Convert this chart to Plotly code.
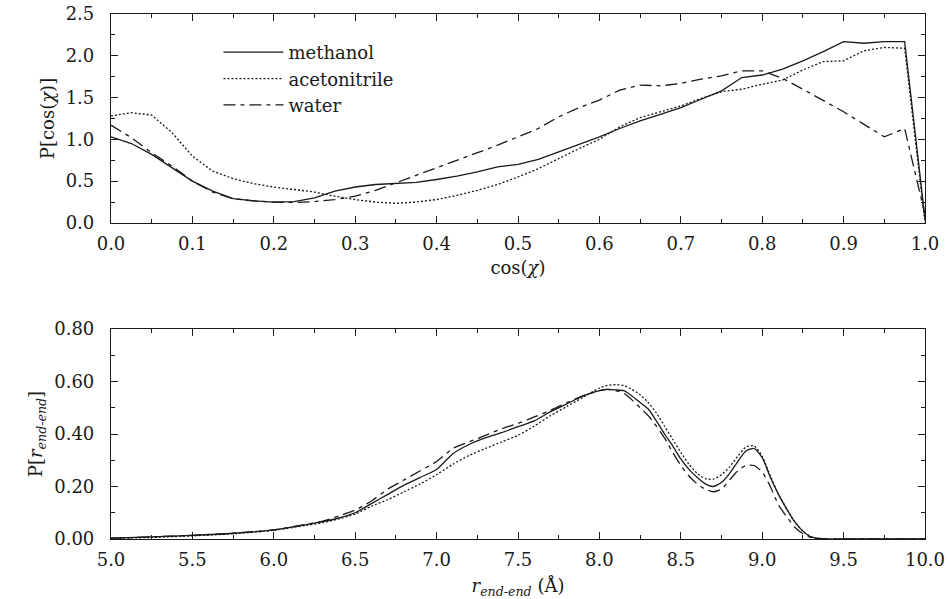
import plotly.graph_objects as go

# ---- top panel: P[cos(chi)] ----
cos_chi = [0.0, 0.025, 0.05, 0.075, 0.1, 0.125, 0.15, 0.175, 0.2, 0.225, 0.25, 0.275, 0.3, 0.325,
           0.35, 0.375, 0.4, 0.425, 0.45, 0.475, 0.5, 0.525, 0.55, 0.575, 0.6, 0.625, 0.65, 0.675,
           0.7, 0.725, 0.75, 0.775, 0.8, 0.825, 0.85, 0.875, 0.9, 0.925, 0.95, 0.975, 1.0]
p_chi_methanol = [1.03, 0.95, 0.82, 0.66, 0.50, 0.38, 0.29, 0.265, 0.25, 0.255, 0.30, 0.38, 0.43, 0.46,
                  0.47, 0.485, 0.52, 0.56, 0.61, 0.67, 0.70, 0.76, 0.85, 0.94, 1.03, 1.13, 1.22, 1.30,
                  1.38, 1.48, 1.58, 1.74, 1.77, 1.84, 1.94, 2.05, 2.17, 2.15, 2.17, 2.17, 0.05]
p_chi_acetonitrile = [1.28, 1.32, 1.29, 1.08, 0.80, 0.62, 0.53, 0.47, 0.43, 0.40, 0.37, 0.32, 0.28, 0.25,
                      0.235, 0.25, 0.28, 0.33, 0.39, 0.46, 0.55, 0.65, 0.77, 0.89, 1.0, 1.15, 1.26, 1.33,
                      1.40, 1.49, 1.57, 1.60, 1.66, 1.71, 1.83, 1.93, 1.94, 2.06, 2.10, 2.09, 0.0]
p_chi_water = [1.17, 1.02, 0.84, 0.68, 0.50, 0.37, 0.29, 0.265, 0.25, 0.245, 0.255, 0.28, 0.32, 0.39,
               0.48, 0.57, 0.66, 0.75, 0.84, 0.93, 1.03, 1.13, 1.27, 1.38, 1.47, 1.59, 1.65, 1.64,
               1.67, 1.72, 1.76, 1.82, 1.82, 1.73, 1.60, 1.47, 1.33, 1.18, 1.03, 1.13, 0.1]

# ---- bottom panel: P[r_end-end] ----
r_end = [5.0, 5.25, 5.5, 5.75, 6.0, 6.2, 6.3, 6.4, 6.5, 6.6, 6.7, 6.8, 6.9, 7.0, 7.1, 7.2, 7.3, 7.4,
         7.5, 7.6, 7.7, 7.8, 7.9, 8.0, 8.05, 8.1, 8.15, 8.2, 8.25, 8.3, 8.35, 8.4, 8.45, 8.5, 8.55,
         8.6, 8.65, 8.7, 8.75, 8.8, 8.85, 8.9, 8.95, 9.0, 9.05, 9.1, 9.15, 9.2, 9.25, 9.3, 9.35,
         9.4, 9.5, 10.0]
p_r_methanol = [0.003, 0.008, 0.014, 0.022, 0.035, 0.055, 0.066, 0.080, 0.100, 0.135, 0.170, 0.205,
                0.235, 0.265, 0.325, 0.360, 0.385, 0.405, 0.428, 0.450, 0.485, 0.515, 0.545, 0.565,
                0.570, 0.568, 0.565, 0.545, 0.520, 0.495, 0.450, 0.400, 0.355, 0.305, 0.265, 0.235,
                0.210, 0.200, 0.215, 0.250, 0.295, 0.335, 0.345, 0.310, 0.235, 0.170, 0.115, 0.065,
                0.030, 0.008, 0.002, 0.0, 0.0, 0.0]
p_r_acetonitrile = [0.002, 0.006, 0.012, 0.020, 0.033, 0.052, 0.062, 0.077, 0.095, 0.125, 0.150, 0.180,
                    0.210, 0.245, 0.285, 0.318, 0.345, 0.370, 0.395, 0.430, 0.470, 0.505, 0.540, 0.575,
                    0.585, 0.588, 0.585, 0.570, 0.550, 0.520, 0.480, 0.430, 0.380, 0.330, 0.285, 0.250,
                    0.230, 0.228, 0.245, 0.275, 0.315, 0.350, 0.355, 0.315, 0.240, 0.170, 0.115, 0.065,
                    0.030, 0.008, 0.002, 0.0, 0.0, 0.0]
p_r_water = [0.003, 0.008, 0.014, 0.022, 0.035, 0.056, 0.068, 0.088, 0.110, 0.145, 0.190, 0.225,
             0.260, 0.295, 0.345, 0.370, 0.395, 0.420, 0.440, 0.465, 0.490, 0.520, 0.545, 0.565,
             0.570, 0.565, 0.555, 0.530, 0.500, 0.470, 0.430, 0.385, 0.330, 0.280, 0.240, 0.210,
             0.190, 0.180, 0.190, 0.225, 0.260, 0.280, 0.280, 0.255, 0.200, 0.130, 0.085, 0.045,
             0.020, 0.005, 0.001, 0.0, 0.0, 0.0]

series_names = ["methanol", "acetonitrile", "water"]
dashes = ["solid", "2px,2px", "12px,5px,4px,5px"]
INK = "#1a1a1a"
FONT = "DejaVu Serif"
FS = 18

fig = go.Figure()
top_y = [p_chi_methanol, p_chi_acetonitrile, p_chi_water]
bot_y = [p_r_methanol, p_r_acetonitrile, p_r_water]
for name, dash, yt, yb in zip(series_names, dashes, top_y, bot_y):
    fig.add_trace(go.Scatter(x=cos_chi, y=yt, mode="lines", name=name,
                             line=dict(color=INK, width=1.3, dash=dash),
                             xaxis="x", yaxis="y", showlegend=True))
    fig.add_trace(go.Scatter(x=r_end, y=yb, mode="lines", name=name,
                             line=dict(color=INK, width=1.3, dash=dash, shape="spline", smoothing=0.6),
                             xaxis="x2", yaxis="y2", showlegend=False))

tickfont = dict(family=FONT, size=FS, color=INK)
titlefont = dict(family=FONT, size=FS, color=INK)
common = dict(showline=True, linecolor=INK, linewidth=1.2, mirror="ticks", ticks="inside",
              ticklen=7, tickwidth=1, tickcolor=INK, showgrid=False, zeroline=False,
              tickfont=tickfont, automargin=False)

fig.update_layout(
    width=948, height=599,
    margin=dict(l=111, r=23, t=14, b=60),
    paper_bgcolor="white", plot_bgcolor="white",
    font=dict(family=FONT, size=FS, color=INK),
    xaxis=dict(domain=[0, 1], anchor="y", range=[0, 1], dtick=0.1, tickformat=".1f",
               minor=dict(ticks="inside", dtick=0.05, ticklen=4, tickcolor=INK),
               ticklabelstandoff=4,
               title=dict(text="cos(<i>χ</i>)", font=titlefont, standoff=8),
               **common),
    yaxis=dict(domain=[0.602, 1], anchor="x", range=[0, 2.5], dtick=0.5, tickformat=".1f",
               minor=dict(ticks="inside", dtick=0.25, ticklen=4, tickcolor=INK),
               ticklabelstandoff=12,
               title=dict(text="P[cos(<i>χ</i>)]", font=titlefont, standoff=6),
               **common),
    xaxis2=dict(domain=[0, 1], anchor="y2", range=[5, 10], dtick=0.5, tickformat=".1f",
                minor=dict(ticks="inside", dtick=0.25, ticklen=4, tickcolor=INK),
                ticklabelstandoff=4,
                title=dict(text="<i>r</i><sub><i>end-end</i></sub> (Å)", font=titlefont, standoff=11),
                **common),
    yaxis2=dict(domain=[0, 0.4], anchor="x2", range=[0, 0.8], dtick=0.2, tickformat=".2f",
                minor=dict(ticks="inside", dtick=0.1, ticklen=4, tickcolor=INK),
                ticklabelstandoff=12,
                title=dict(text="P[<i>r</i><sub><i>end-end</i></sub>]", font=titlefont, standoff=6),
                **common),
    legend=dict(x=0.132, y=0.962, xanchor="left", yanchor="top", bgcolor="rgba(0,0,0,0)",
                font=dict(family=FONT, size=FS, color=INK), tracegroupgap=0,
                itemwidth=60),
    showlegend=True,
)

fig.write_html("out.html")
